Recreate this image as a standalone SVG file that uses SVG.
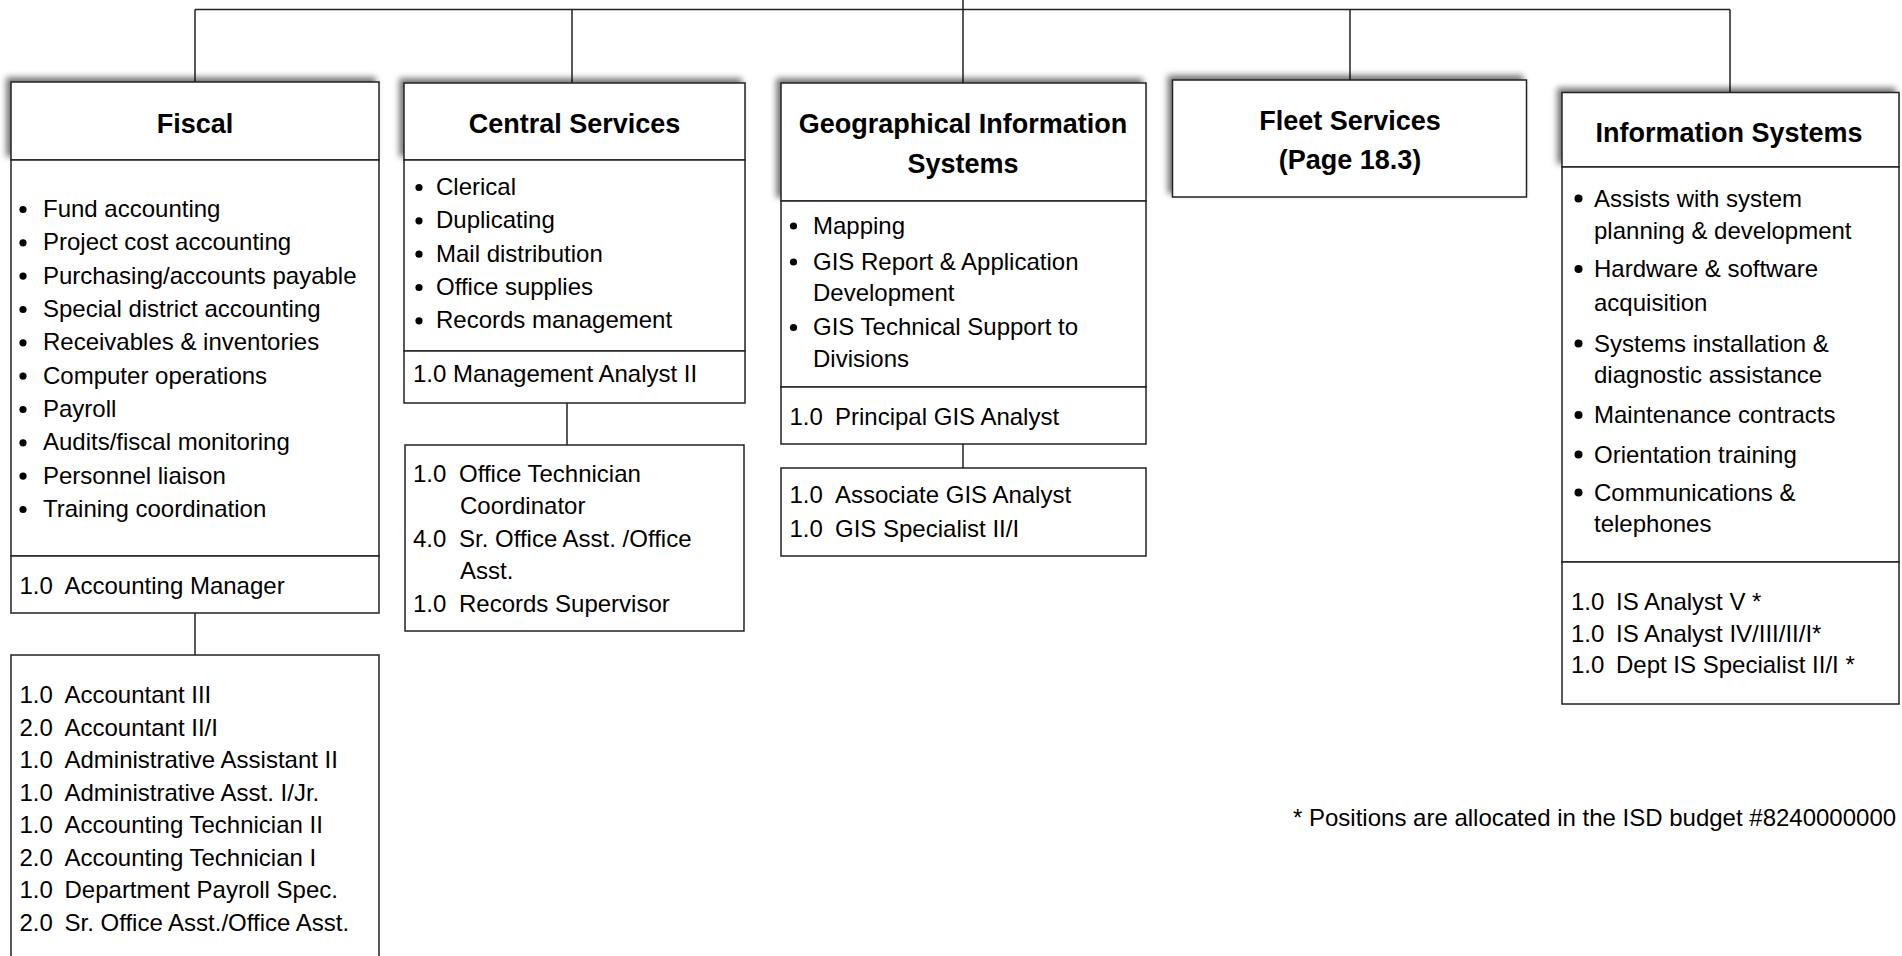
<svg xmlns="http://www.w3.org/2000/svg" width="1902" height="956" viewBox="0 0 1902 956">
<defs>
<filter id="sh" x="-10%" y="-30%" width="120%" height="160%">
<feDropShadow dx="-4" dy="-4" stdDeviation="3" flood-color="#000" flood-opacity="0.55"/>
</filter>
</defs>
<style>
.box{fill:#fff;stroke:#222;stroke-width:1.5}
.ln{fill:none;stroke:#222;stroke-width:1.5}
.hd{font-family:"Liberation Sans",Arial,sans-serif;font-weight:bold;font-size:27px;fill:#000;text-anchor:middle}
.tx{font-family:"Liberation Sans",Arial,sans-serif;font-size:24px;fill:#000}
.bl{fill:#000}
</style>
<rect width="1902" height="956" fill="#fff"/>

<g id="connectors">
<line class="ln" x1="195" y1="9.5" x2="1730" y2="9.5"/>
<line class="ln" x1="963" y1="0" x2="963" y2="83"/>
<line class="ln" x1="195" y1="9.5" x2="195" y2="82"/>
<line class="ln" x1="572" y1="9.5" x2="572" y2="83"/>
<line class="ln" x1="1350" y1="9.5" x2="1350" y2="80"/>
<line class="ln" x1="1730" y1="9.5" x2="1730" y2="92"/>
<line class="ln" x1="195" y1="613" x2="195" y2="655"/>
<line class="ln" x1="567" y1="403" x2="567" y2="445"/>
<line class="ln" x1="963" y1="444" x2="963" y2="468"/>
</g>

<g id="fiscal">
<rect class="box" x="11" y="82" width="368" height="78" filter="url(#sh)"/>
<rect class="box" x="11" y="160" width="368" height="396"/>
<rect class="box" x="11" y="556" width="368" height="57"/>
<text class="hd" x="195" y="133">Fiscal</text>
<g class="bl">
<circle cx="23" cy="209.5" r="3.6"/><circle cx="23" cy="242.8" r="3.6"/><circle cx="23" cy="276.1" r="3.6"/>
<circle cx="23" cy="309.5" r="3.6"/><circle cx="23" cy="342.8" r="3.6"/><circle cx="23" cy="376.1" r="3.6"/>
<circle cx="23" cy="409.5" r="3.6"/><circle cx="23" cy="442.8" r="3.6"/><circle cx="23" cy="476.1" r="3.6"/>
<circle cx="23" cy="509.5" r="3.6"/>
</g>
<g class="tx">
<text x="43" y="217">Fund accounting</text>
<text x="43" y="250.3">Project cost accounting</text>
<text x="43" y="283.6">Purchasing/accounts payable</text>
<text x="43" y="317">Special district accounting</text>
<text x="43" y="350.3">Receivables &amp; inventories</text>
<text x="43" y="383.6">Computer operations</text>
<text x="43" y="417">Payroll</text>
<text x="43" y="450.3">Audits/fiscal monitoring</text>
<text x="43" y="483.6">Personnel liaison</text>
<text x="43" y="517">Training coordination</text>
<text x="19.5" y="594">1.0</text><text x="64.5" y="594">Accounting Manager</text>
</g>
</g>

<g id="fiscal-staff">
<rect class="box" x="11" y="655" width="368" height="320"/>
<g class="tx">
<text x="19.5" y="703">1.0</text><text x="64.5" y="703">Accountant III</text>
<text x="19.5" y="735.5">2.0</text><text x="64.5" y="735.5">Accountant II/I</text>
<text x="19.5" y="768">1.0</text><text x="64.5" y="768">Administrative Assistant II</text>
<text x="19.5" y="800.5">1.0</text><text x="64.5" y="800.5">Administrative Asst. I/Jr.</text>
<text x="19.5" y="833">1.0</text><text x="64.5" y="833">Accounting Technician II</text>
<text x="19.5" y="865.5">2.0</text><text x="64.5" y="865.5">Accounting Technician I</text>
<text x="19.5" y="898">1.0</text><text x="64.5" y="898">Department Payroll Spec.</text>
<text x="19.5" y="930.5">2.0</text><text x="64.5" y="930.5">Sr. Office Asst./Office Asst.</text>
</g>
</g>

<g id="central-services">
<rect class="box" x="404" y="83" width="341" height="77" filter="url(#sh)"/>
<rect class="box" x="404" y="160" width="341" height="191"/>
<rect class="box" x="404" y="351" width="341" height="52"/>
<text class="hd" x="574.5" y="133">Central Services</text>
<g class="bl">
<circle cx="419" cy="187.5" r="3.6"/><circle cx="419" cy="220.8" r="3.6"/><circle cx="419" cy="254.2" r="3.6"/>
<circle cx="419" cy="287.5" r="3.6"/><circle cx="419" cy="320.8" r="3.6"/>
</g>
<g class="tx">
<text x="436" y="195">Clerical</text>
<text x="436" y="228.3">Duplicating</text>
<text x="436" y="261.7">Mail distribution</text>
<text x="436" y="295">Office supplies</text>
<text x="436" y="328.3">Records management</text>
<text x="413" y="381.7">1.0</text><text x="453" y="381.7">Management Analyst II</text>
</g>
</g>

<g id="central-staff">
<rect class="box" x="405" y="445" width="339" height="186"/>
<g class="tx">
<text x="413" y="481.7">1.0</text><text x="459" y="481.7">Office Technician</text>
<text x="460" y="513.5">Coordinator</text>
<text x="413" y="546.7">4.0</text><text x="459" y="546.7">Sr. Office Asst. /Office</text>
<text x="460" y="578.5">Asst.</text>
<text x="413" y="611.7">1.0</text><text x="459" y="611.7">Records Supervisor</text>
</g>
</g>

<g id="gis">
<rect class="box" x="781" y="83" width="365" height="118" filter="url(#sh)"/>
<rect class="box" x="781" y="201" width="365" height="186"/>
<rect class="box" x="781" y="387" width="365" height="57"/>
<text class="hd" x="963" y="133">Geographical Information</text>
<text class="hd" x="963" y="173">Systems</text>
<g class="bl">
<circle cx="793.5" cy="226" r="3.6"/><circle cx="793.5" cy="262" r="3.6"/><circle cx="793.5" cy="327.5" r="3.6"/>
</g>
<g class="tx">
<text x="813" y="233.5">Mapping</text>
<text x="813" y="269.5">GIS Report &amp; Application</text>
<text x="813" y="301">Development</text>
<text x="813" y="335">GIS Technical Support to</text>
<text x="813" y="366.7">Divisions</text>
<text x="789.5" y="425">1.0</text><text x="835" y="425">Principal GIS Analyst</text>
</g>
</g>

<g id="gis-staff">
<rect class="box" x="781" y="468" width="365" height="88"/>
<g class="tx">
<text x="789.5" y="503.3">1.0</text><text x="835" y="503.3">Associate GIS Analyst</text>
<text x="789.5" y="536.7">1.0</text><text x="835" y="536.7">GIS Specialist II/I</text>
</g>
</g>

<g id="fleet-services">
<rect class="box" x="1172.5" y="80" width="354" height="117" filter="url(#sh)"/>
<text class="hd" x="1350" y="130">Fleet Services</text>
<text class="hd" x="1350" y="169">(Page 18.3)</text>
</g>

<g id="information-systems">
<rect class="box" x="1562" y="92.5" width="337" height="74.5" filter="url(#sh)"/>
<rect class="box" x="1562" y="167" width="337" height="395"/>
<rect class="box" x="1562" y="562" width="337" height="142"/>
<text class="hd" x="1729" y="142">Information Systems</text>
<g class="bl">
<circle cx="1578.5" cy="198.5" r="4"/><circle cx="1578.5" cy="269" r="4"/><circle cx="1578.5" cy="343.5" r="4"/>
<circle cx="1578.5" cy="415" r="4"/><circle cx="1578.5" cy="454.5" r="4"/><circle cx="1578.5" cy="492.5" r="4"/>
</g>
<g class="tx">
<text x="1594" y="206.5">Assists with system</text>
<text x="1594" y="238.5">planning &amp; development</text>
<text x="1594" y="277">Hardware &amp; software</text>
<text x="1594" y="310.5">acquisition</text>
<text x="1594" y="351.7">Systems installation &amp;</text>
<text x="1594" y="383.3">diagnostic assistance</text>
<text x="1594" y="423.3">Maintenance contracts</text>
<text x="1594" y="462.7">Orientation training</text>
<text x="1594" y="500.7">Communications &amp;</text>
<text x="1594" y="531.7">telephones</text>
<text x="1571" y="610">1.0</text><text x="1616" y="610">IS Analyst V *</text>
<text x="1571" y="641.7">1.0</text><text x="1616" y="641.7">IS Analyst IV/III/II/I*</text>
<text x="1571" y="673.3">1.0</text><text x="1616" y="673.3">Dept IS Specialist II/I *</text>
</g>
</g>

<text class="tx" x="1293" y="825.5">* Positions are allocated in the ISD budget #8240000000</text>
</svg>
